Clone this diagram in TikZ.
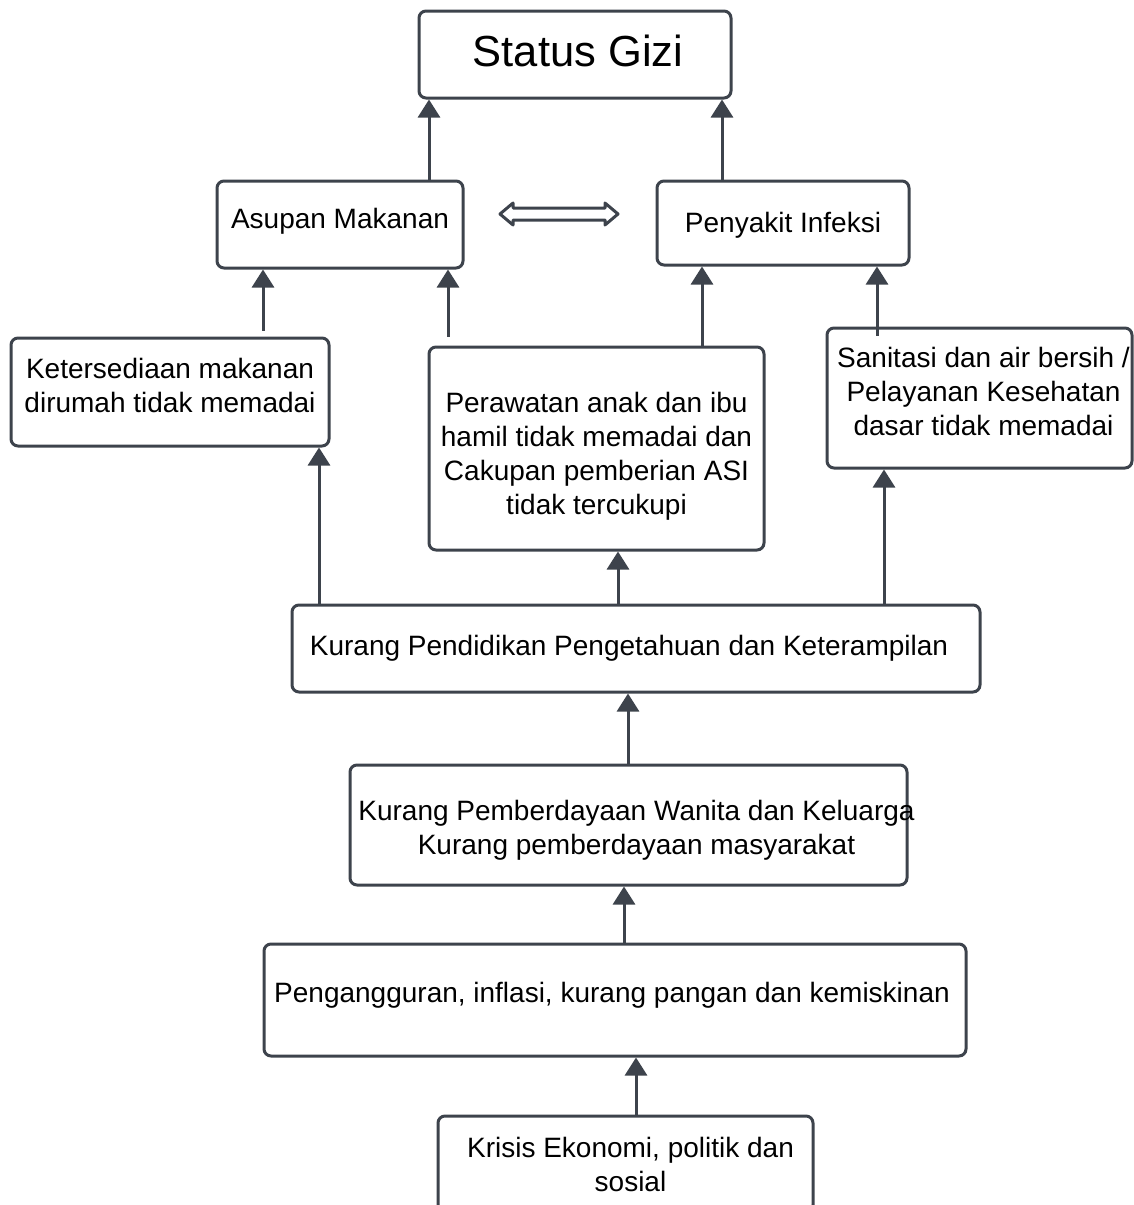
\documentclass[tikz,border=0pt]{standalone}
\usepackage{fontspec}
\setmainfont{Liberation Sans}
\usetikzlibrary{arrows.meta}
\definecolor{ln}{HTML}{3D434C}
% #1 = horizontal shift, #2 = vertical shift (up), #3 = width, #4 = text
\newcommand{\tbx}[4]{\raisebox{#2}[\height][\depth]{\hspace*{#1}\parbox{#3}{\centering #4}\hspace*{-#1}}}
\begin{document}
\begin{tikzpicture}[x=1pt,y=-1pt,
  box/.style={draw=ln, line width=3pt, rounded corners=7pt, inner sep=4pt,
    font=\fontsize{28}{34}\selectfont, text=black},
  arr/.style={draw=ln, line width=3pt, -{Triangle[width=22pt,length=18pt]}},
  dbl/.style={draw=ln, line width=3pt, line join=round}
]
\clip (0,0) rectangle (1134,1205);
\node[box, minimum width=312pt, minimum height=87pt, font=\fontsize{43.5}{50}\selectfont] (status) at (575,54.5) {\tbx{3pt}{4pt}{300pt}{Status Gizi}};
\node[box, minimum width=246pt, minimum height=87pt] (asupan) at (340,224.5) {\tbx{0pt}{3pt}{238pt}{Asupan Makanan}};
\node[box, minimum width=252pt, minimum height=84pt] (infeksi) at (783,223) {\tbx{0pt}{-2pt}{244pt}{Penyakit Infeksi}};
\node[box, minimum width=318pt, minimum height=108pt] (ket) at (170,392) {\tbx{0pt}{7pt}{310pt}{Ketersediaan makanan\\dirumah tidak memadai}};
\node[box, minimum width=335pt, minimum height=203pt] (pera) at (596.5,448.5) {\tbx{0pt}{-8pt}{327pt}{Perawatan anak dan ibu\\hamil tidak memadai dan\\Cakupan pemberian ASI\\tidak tercukupi}};
\node[box, minimum width=305pt, minimum height=140pt] (sani) at (979.5,398) {\tbx{4pt}{7pt}{297pt}{Sanitasi dan air bersih /\\Pelayanan Kesehatan\\dasar tidak memadai}};
\node[box, minimum width=688pt, minimum height=87pt] (pend) at (636,648.5) {\tbx{-7pt}{0pt}{680pt}{Kurang Pendidikan Pengetahuan dan Keterampilan}};
\node[box, minimum width=557pt, minimum height=120pt] (pemb) at (628.5,825) {\tbx{8pt}{-5pt}{549pt}{\makebox[\linewidth]{Kurang Pemberdayaan Wanita dan Keluarga}\\Kurang pemberdayaan masyarakat}};
\node[box, minimum width=702pt, minimum height=112pt] (peng) at (615,1000) {\tbx{-3pt}{5pt}{694pt}{Pengangguran, inflasi, kurang pangan dan kemiskinan}};
\node[box, minimum width=375pt, minimum height=96pt] (kris) at (625.5,1164) {\tbx{5pt}{0pt}{367pt}{Krisis Ekonomi, politik dan\\sosial}};

\coordinate (xa) at (429,0);
\coordinate (xb) at (722,0);
\coordinate (xc) at (263,0);
\coordinate (xd) at (448,0);
\coordinate (xe) at (702,0);
\coordinate (xf) at (877,0);
\coordinate (xg) at (319,0);
\coordinate (xh) at (618,0);
\coordinate (xi) at (884,0);
\coordinate (xj) at (628,0);
\coordinate (xk) at (624,0);
\coordinate (xl) at (636,0);

\draw[arr] (asupan.north -| xa) -- (status.south -| xa);
\draw[arr] (infeksi.north -| xb) -- (status.south -| xb);
\draw[arr] ([yshift=6pt]ket.north -| xc) -- (asupan.south -| xc);
\draw[arr] ([yshift=9pt]pera.north -| xd) -- (asupan.south -| xd);
\draw[arr] (pera.north -| xe) -- (infeksi.south -| xe);
\draw[arr] ([yshift=-9pt]sani.north -| xf) -- (infeksi.south -| xf);
\draw[arr] (pend.north -| xg) -- (ket.south -| xg);
\draw[arr] (pend.north -| xh) -- (pera.south -| xh);
\draw[arr] (pend.north -| xi) -- (sani.south -| xi);
\draw[arr] (pemb.north -| xj) -- (pend.south -| xj);
\draw[arr] (peng.north -| xk) -- (pemb.south -| xk);
\draw[arr] (kris.north -| xl) -- (peng.south -| xl);

\draw[dbl] (500,214) -- (513,203) -- (513,208) -- (605,208) -- (605,203) -- (618,214)
  -- (605,225) -- (605,220) -- (513,220) -- (513,225) -- cycle;
\end{tikzpicture}
\end{document}
